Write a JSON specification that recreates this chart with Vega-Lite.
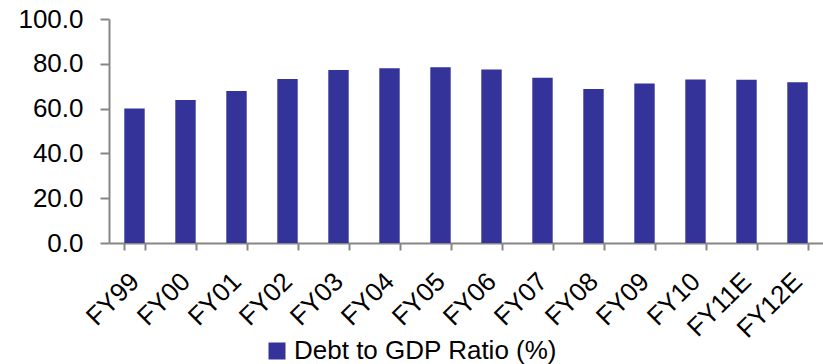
{
  "$schema": "https://vega.github.io/schema/vega-lite/v6.json",
  "autosize": "none",
  "width": 714,
  "height": 224,
  "padding": {"left": 109, "top": 19, "right": 0, "bottom": 121},
  "background": "white",
  "config": {
    "view": {"stroke": null},
    "font": "Liberation Sans",
    "axis": {
      "labelFont": "Liberation Sans",
      "labelColor": "#000000",
      "labelFontSize": 26,
      "domainColor": "#868686",
      "domainWidth": 2,
      "tickColor": "#868686",
      "tickWidth": 2,
      "grid": false,
      "title": null
    }
  },
  "data": {
    "values": [
      {"year": "FY99", "ratio": 60.1, "series": "Debt to GDP Ratio (%)"},
      {"year": "FY00", "ratio": 63.8, "series": "Debt to GDP Ratio (%)"},
      {"year": "FY01", "ratio": 67.9, "series": "Debt to GDP Ratio (%)"},
      {"year": "FY02", "ratio": 73.2, "series": "Debt to GDP Ratio (%)"},
      {"year": "FY03", "ratio": 77.2, "series": "Debt to GDP Ratio (%)"},
      {"year": "FY04", "ratio": 78.0, "series": "Debt to GDP Ratio (%)"},
      {"year": "FY05", "ratio": 78.5, "series": "Debt to GDP Ratio (%)"},
      {"year": "FY06", "ratio": 77.5, "series": "Debt to GDP Ratio (%)"},
      {"year": "FY07", "ratio": 73.8, "series": "Debt to GDP Ratio (%)"},
      {"year": "FY08", "ratio": 68.7, "series": "Debt to GDP Ratio (%)"},
      {"year": "FY09", "ratio": 71.2, "series": "Debt to GDP Ratio (%)"},
      {"year": "FY10", "ratio": 73.0, "series": "Debt to GDP Ratio (%)"},
      {"year": "FY11E", "ratio": 72.9, "series": "Debt to GDP Ratio (%)"},
      {"year": "FY12E", "ratio": 71.8, "series": "Debt to GDP Ratio (%)"}
    ]
  },
  "mark": {"type": "bar"},
  "encoding": {
    "x": {
      "field": "year",
      "type": "nominal",
      "sort": null,
      "scale": {"paddingInner": 0.6, "paddingOuter": 0.3},
      "axis": {
        "labelAngle": -45,
        "labelAlign": "right",
        "labelBaseline": "middle",
        "tickBand": "extent",
        "tickSize": 7,
        "labelPadding": 27
      }
    },
    "y": {
      "field": "ratio",
      "type": "quantitative",
      "scale": {"domain": [0, 100], "nice": false},
      "axis": {
        "values": [0, 20, 40, 60, 80, 100],
        "format": ".1f",
        "tickSize": 9,
        "labelPadding": 17
      }
    },
    "color": {
      "field": "series",
      "type": "nominal",
      "scale": {"range": ["#333399"]},
      "legend": {
        "orient": "none",
        "legendX": 155,
        "legendY": 319,
        "title": null,
        "symbolType": "square",
        "symbolSize": 289,
        "symbolStrokeWidth": 0,
        "labelFont": "Liberation Sans",
        "labelFontSize": 26,
        "labelColor": "#000000",
        "labelOffset": 4,
        "labelLimit": 400
      }
    }
  }
}
